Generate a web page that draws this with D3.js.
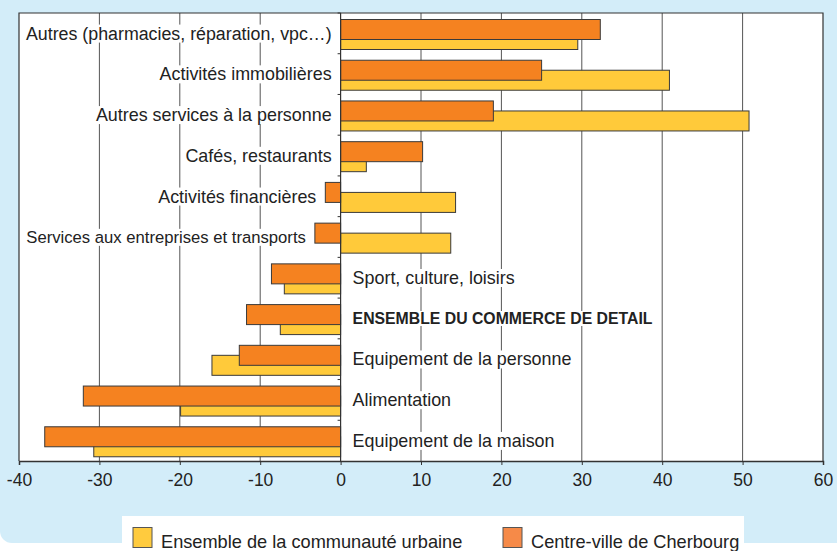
<!DOCTYPE html>
<html>
<head>
<meta charset="utf-8">
<script src="https://cdn.jsdelivr.net/npm/d3@7"></script>
<style>
    body { margin: 0; background: #ffffff; }
    svg { display: block; }
</style>
</head>
<body>
<script>
// Data
const categories = [
    "Autres (pharmacies, réparation, vpc…)",
    "Activités immobilières",
    "Autres services à la personne",
    "Cafés, restaurants",
    "Activités financières",
    "Services aux entreprises et transports",
    "Sport, culture, loisirs",
    "ENSEMBLE DU COMMERCE DE DETAIL",
    "Equipement de la personne",
    "Alimentation",
    "Equipement de la maison"
]
const centreVille = [32.3, 25.0, 19.0, 10.2, -1.9, -3.2, -8.6, -11.7, -12.6, -32.0, -36.8]
const communaute = [29.5, 40.9, 50.8, 3.2, 14.3, 13.7, -7.0, -7.5, -16.0, -19.9, -30.7]
const xTicks = [-40, -30, -20, -10, 0, 10, 20, 30, 40, 50, 60]
const legendLabels = ["Ensemble de la communauté urbaine", "Centre-ville de Cherbourg"]

// Main
let main = () => {
    const width = 837
    const height = 551
    const left = 19, right = 823, top = 13, bottom = 461
    const font = "'Liberation Sans', Arial, sans-serif"
    const textColor = "#222"
    const orange = "#f58220"
    const yellow = "#ffca3a"

    const data = categories.map((c, i) => ({ name: c, cv: centreVille[i], cu: communaute[i], bold: c === c.toUpperCase() }))

    let svg = d3.select("body")
        .append("svg")
        .attr("width", width)
        .attr("height", height)

    // Blue panel with rounded bottom-left corner
    svg.append("rect")
        .attr("x", 0).attr("y", -20)
        .attr("width", width + 20).attr("height", height + 12)
        .attr("rx", 12)
        .attr("fill", "#d3edf9")

    // Scales
    let xScale = d3.scaleLinear().domain([-40, 60]).range([left, right])
    let yScale = d3.scaleBand().domain(categories).range([top, bottom]).padding(0)
    const bw = yScale.bandwidth()

    // Plot area
    svg.append("rect")
        .attr("x", left).attr("y", top)
        .attr("width", right - left).attr("height", bottom - top)
        .attr("fill", "#ffffff")

    // Gridlines
    svg.selectAll(".grid")
        .data(xTicks.filter(t => t !== 0 && t !== -40 && t !== 60)).enter().append("line")
        .attr("class", "grid")
        .attr("x1", d => xScale(d)).attr("x2", d => xScale(d))
        .attr("y1", top).attr("y2", bottom)
        .attr("stroke", "#555")
        .attr("stroke-width", 1)

    // Category labels (white background cuts the gridlines)
    let labels = svg.selectAll(".lab")
        .data(data).enter().append("g")
        .attr("class", "lab")
    labels.append("text")
        .attr("x", d => {
            const onLeft = Math.max(d.cv, d.cu) > 0
            if (onLeft) return Math.min(xScale(0), xScale(d.cv), xScale(d.cu)) - 9
            return xScale(0) + 12
        })
        .attr("y", d => yScale(d.name) + bw / 2)
        .attr("dy", "0.35em")
        .attr("text-anchor", d => Math.max(d.cv, d.cu) > 0 ? "end" : "start")
        .style("font-family", font)
        .style("font-size", d => d.bold ? "15.8px" : "17.9px")
        .style("font-weight", d => d.bold ? "bold" : "normal")
        .attr("fill", textColor)
        .text(d => d.name)
    labels.each(function () {
        const g = d3.select(this)
        const t = g.select("text")
        let bb = t.node().getBBox()
        // shrink labels that would run into the frame
        if (bb.x < left + 7) {
            const avail = +t.attr("x") - (left + 7)
            const fs = 17.9 * avail / bb.width
            t.style("font-size", fs + "px")
            bb = t.node().getBBox()
        }
        g.insert("rect", "text")
            .attr("x", bb.x - 2).attr("y", bb.y + 1)
            .attr("width", bb.width + 4).attr("height", bb.height - 2)
            .attr("fill", "#ffffff")
    })

    // Yellow bars (communauté urbaine)
    svg.selectAll(".barCu")
        .data(data).enter().append("rect")
        .attr("class", "barCu")
        .attr("x", d => xScale(Math.min(0, d.cu)))
        .attr("y", d => yScale(d.name) + 16.5)
        .attr("width", d => Math.abs(xScale(d.cu) - xScale(0)))
        .attr("height", 20)
        .attr("fill", yellow)
        .attr("stroke", "#3a3a3a")
        .attr("stroke-width", 1)

    // Orange bars (centre-ville)
    svg.selectAll(".barCv")
        .data(data).enter().append("rect")
        .attr("class", "barCv")
        .attr("x", d => xScale(Math.min(0, d.cv)))
        .attr("y", d => yScale(d.name) + 6.5)
        .attr("width", d => Math.abs(xScale(d.cv) - xScale(0)))
        .attr("height", 20)
        .attr("fill", orange)
        .attr("stroke", "#3a3a3a")
        .attr("stroke-width", 1)

    // Zero axis with category ticks
    svg.append("line")
        .attr("x1", xScale(0)).attr("x2", xScale(0))
        .attr("y1", top).attr("y2", bottom)
        .attr("stroke", "#333").attr("stroke-width", 1.2)
    svg.selectAll(".catTick")
        .data(categories).enter().append("line")
        .attr("class", "catTick")
        .attr("x1", xScale(0) - 3).attr("x2", xScale(0))
        .attr("y1", d => yScale(d)).attr("y2", d => yScale(d))
        .attr("stroke", "#333")

    // Plot frame (left, top, right)
    svg.append("path")
        .attr("d", `M${left},${bottom}V${top}H${right}V${bottom}`)
        .attr("fill", "none")
        .attr("stroke", "#333")
        .attr("stroke-width", 1.2)

    // Bottom axis
    let xAxis = svg.append("g")
        .attr("transform", `translate(0, ${bottom})`)
        .call(d3.axisBottom(xScale).tickValues(xTicks).tickFormat(d => String(d)).tickSize(4).tickPadding(9))
    xAxis.select(".domain").attr("stroke", "#333").attr("stroke-width", 1.5)
    xAxis.selectAll(".tick line").attr("stroke", "#333")
    xAxis.selectAll(".tick text")
        .style("font-family", font)
        .style("font-size", "17.5px")
        .attr("fill", textColor)

    // Legend
    svg.append("rect")
        .attr("x", 122).attr("y", 516)
        .attr("width", 622).attr("height", 40)
        .attr("fill", "#ffffff")
    const legendX = [133, 503]
    const legendColors = ["#ffcb3e", "#f68a48"]
    legendLabels.forEach((l, i) => {
        svg.append("rect")
            .attr("x", legendX[i]).attr("y", 527.5)
            .attr("width", 19).attr("height", 20)
            .attr("fill", legendColors[i])
            .attr("stroke", "#555")
        svg.append("text")
            .attr("x", legendX[i] + 28).attr("y", 548)
            .style("font-family", font)
            .style("font-size", "18.2px")
            .attr("fill", textColor)
            .text(l)
    })
}

main()
</script>
</body>
</html>
